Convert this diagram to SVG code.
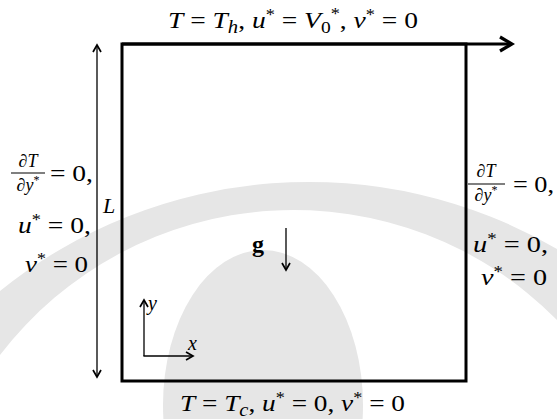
<svg xmlns="http://www.w3.org/2000/svg" width="557" height="419" viewBox="0 0 557 419">
<defs>
<style>
text{font-family:'Liberation Serif','Times New Roman',serif;fill:#000}
.i{font-style:italic}
.ln{stroke:#000;fill:none;stroke-linecap:butt}
.wm{fill:#e6e6e6;stroke:none}
</style>
<marker id="hd" viewBox="0 0 12 12" refX="10" refY="6" markerWidth="12" markerHeight="12" markerUnits="userSpaceOnUse" orient="auto-start-reverse">
<path d="M3,2 L10,6 L3,10" fill="none" stroke="#000" stroke-width="1.7"/>
</marker>
<marker id="hdBig" viewBox="0 0 20 20" refX="17" refY="10" markerWidth="20" markerHeight="20" markerUnits="userSpaceOnUse" orient="auto">
<path d="M5,3 L17,10 L5,17" fill="none" stroke="#000" stroke-width="3.2"/>
</marker>
</defs>
<rect width="557" height="419" fill="#fff"/>
<g id="watermark">
<path class="wm" d="M0,291 A492,492 0 0 1 557,249 L557,320 A370,370 0 0 0 0,355 Z"/>
<ellipse class="wm" cx="263" cy="405" rx="100" ry="155"/>
</g>
<g id="cavity">
<rect x="122" y="44" width="344" height="337" fill="none" stroke="#000" stroke-width="3"/>
</g>
<g id="connectors">
<line class="ln" x1="122" y1="44" x2="512" y2="44" stroke-width="3" marker-end="url(#hdBig)"/>
<line class="ln" x1="97" y1="45" x2="97" y2="377" stroke-width="1.3" marker-start="url(#hd)" marker-end="url(#hd)"/>
<line class="ln" x1="286" y1="228" x2="286" y2="270" stroke-width="1.3" marker-end="url(#hd)"/>
<line class="ln" x1="144" y1="356" x2="144" y2="300" stroke-width="1.3" marker-end="url(#hd)"/>
<line class="ln" x1="143.4" y1="356" x2="193" y2="356" stroke-width="1.3" marker-end="url(#hd)"/>
</g>
<g id="top-bc">
<text x="168" y="28" font-size="24" textLength="250" lengthAdjust="spacingAndGlyphs"><tspan class="i">T</tspan> = <tspan class="i">T</tspan><tspan class="i" font-size="18" dy="5">h</tspan><tspan dy="-5">, </tspan><tspan class="i">u</tspan><tspan font-size="16" dy="-8">*</tspan><tspan dy="8"> = </tspan><tspan class="i">V</tspan><tspan font-size="17" dy="5">0</tspan><tspan font-size="16" dy="-14">*</tspan><tspan dy="9">, </tspan><tspan class="i">v</tspan><tspan font-size="16" dy="-8">*</tspan><tspan dy="8"> = 0</tspan></text>
</g>
<g id="bottom-bc">
<text x="180" y="411" font-size="24" textLength="225" lengthAdjust="spacingAndGlyphs"><tspan class="i">T</tspan> = <tspan class="i">T</tspan><tspan class="i" font-size="18" dy="5">c</tspan><tspan dy="-5">, </tspan><tspan class="i">u</tspan><tspan font-size="16" dy="-8">*</tspan><tspan dy="8"> = 0, </tspan><tspan class="i">v</tspan><tspan font-size="16" dy="-8">*</tspan><tspan dy="8"> = 0</tspan></text>
</g>
<g id="left-bc">
<text x="28" y="167" font-size="18" text-anchor="middle">∂<tspan class="i">T</tspan></text>
<line x1="11" y1="173" x2="45" y2="173" stroke="#000" stroke-width="1.1"/>
<text x="28" y="191" font-size="18" text-anchor="middle">∂<tspan class="i">y</tspan><tspan font-size="12" dy="-7">*</tspan></text>
<text x="50" y="181" font-size="24" textLength="43" lengthAdjust="spacingAndGlyphs">= 0,</text>
<text x="18" y="233" font-size="24" textLength="73" lengthAdjust="spacingAndGlyphs"><tspan class="i">u</tspan><tspan font-size="16" dy="-8">*</tspan><tspan dy="8"> = 0,</tspan></text>
<text x="25" y="272" font-size="24" textLength="63" lengthAdjust="spacingAndGlyphs"><tspan class="i">v</tspan><tspan font-size="16" dy="-8">*</tspan><tspan dy="8"> = 0</tspan></text>
</g>
<g id="right-bc">
<text x="486" y="177" font-size="18" text-anchor="middle">∂<tspan class="i">T</tspan></text>
<line x1="468" y1="184" x2="505" y2="184" stroke="#000" stroke-width="1.1"/>
<text x="486" y="201" font-size="18" text-anchor="middle">∂<tspan class="i">y</tspan><tspan font-size="12" dy="-7">*</tspan></text>
<text x="513" y="192" font-size="24" textLength="41" lengthAdjust="spacingAndGlyphs">= 0,</text>
<text x="473" y="252" font-size="24" textLength="75" lengthAdjust="spacingAndGlyphs"><tspan class="i">u</tspan><tspan font-size="16" dy="-8">*</tspan><tspan dy="8"> = 0,</tspan></text>
<text x="481" y="285" font-size="24" textLength="66" lengthAdjust="spacingAndGlyphs"><tspan class="i">v</tspan><tspan font-size="16" dy="-8">*</tspan><tspan dy="8"> = 0</tspan></text>
</g>
<g id="labels">
<text class="i" x="103" y="213" font-size="22">L</text>
<text x="252" y="252" font-size="24" font-weight="bold">g</text>
<text class="i" x="148" y="310" font-size="20">y</text>
<text class="i" x="188" y="350" font-size="20">x</text>
</g>
</svg>
